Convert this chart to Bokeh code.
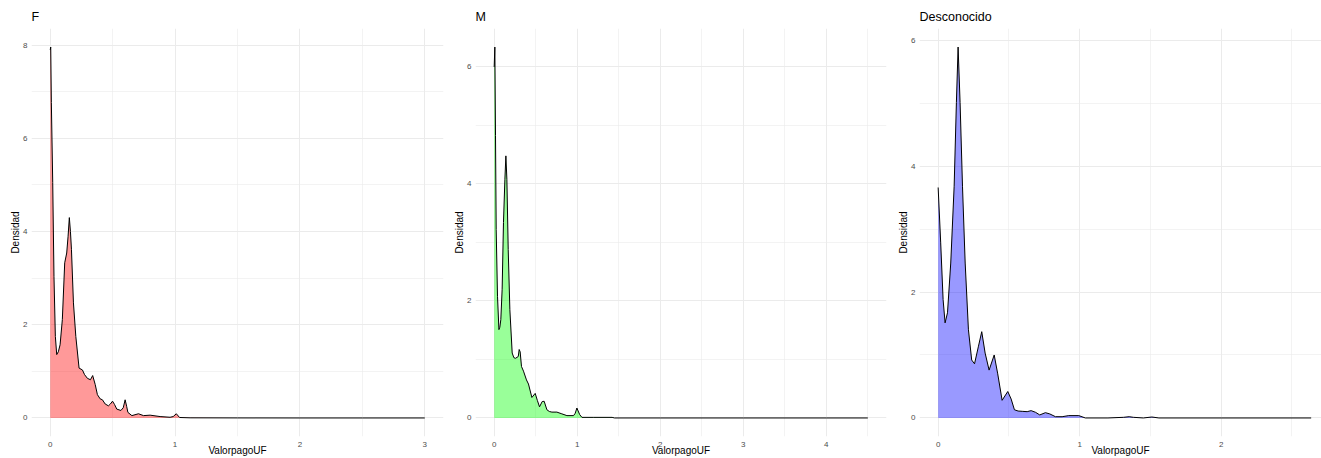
from bokeh.plotting import figure
from bokeh.layouts import row
from bokeh.models import Range1d, FixedTicker
from bokeh.embed import file_html
from bokeh.resources import INLINE

# Density of ValorpagoUF by sex (F, M, Desconocido)
f_x = [0.0, 0.004, 0.009, 0.02, 0.03, 0.041, 0.052, 0.065, 0.079, 0.097, 0.116, 0.132,
       0.143, 0.153, 0.162, 0.17, 0.186, 0.205, 0.231, 0.258, 0.275, 0.298, 0.322, 0.34,
       0.36, 0.378, 0.40, 0.418, 0.44, 0.466, 0.482, 0.499, 0.515, 0.533, 0.566, 0.585,
       0.60, 0.612, 0.622, 0.654, 0.707, 0.747, 0.80, 0.88, 0.96, 0.985, 1.01, 1.036,
       1.12, 1.5, 2.0, 2.5, 3.0]
f_y = [7.9, 7.96, 6.77, 5.05, 3.04, 1.75, 1.36, 1.42, 1.57, 2.11, 3.33, 3.54,
       3.9, 4.30, 4.0, 3.62, 2.47, 1.75, 1.07, 1.03, 0.93, 0.85, 0.82, 0.91,
       0.72, 0.50, 0.41, 0.39, 0.30, 0.26, 0.30, 0.36, 0.29, 0.19, 0.16, 0.22,
       0.39, 0.25, 0.12, 0.05, 0.09, 0.05, 0.06, 0.03, 0.015, 0.03, 0.09, 0.01,
       0.003, 0.001, 0.0, 0.0, 0.0]

m_x = [0.0, 0.008, 0.016, 0.024, 0.04, 0.057, 0.068, 0.08, 0.096, 0.112, 0.129, 0.141,
       0.153, 0.169, 0.189, 0.217, 0.237, 0.257, 0.29, 0.301, 0.313, 0.329, 0.353, 0.389,
       0.413, 0.454, 0.494, 0.52, 0.546, 0.578, 0.602, 0.635, 0.665, 0.695, 0.755, 0.815,
       0.876, 0.956, 0.976, 0.996, 1.03, 1.057, 1.2, 1.42, 1.45, 2.0, 3.0, 4.0, 4.5]
m_y = [6.0, 6.34, 4.83, 3.22, 2.08, 1.51, 1.55, 1.68, 2.20, 3.34, 4.08, 4.48,
       4.08, 2.88, 1.85, 1.11, 1.03, 1.02, 1.05, 1.17, 1.13, 0.88, 0.80, 0.65,
       0.58, 0.35, 0.42, 0.30, 0.19, 0.28, 0.285, 0.14, 0.11, 0.10, 0.10, 0.07,
       0.04, 0.04, 0.08, 0.17, 0.057, 0.01, 0.01, 0.01, 0.0, 0.0, 0.0, 0.0, 0.0]

d_x = [0.0, 0.018, 0.035, 0.049, 0.066, 0.089, 0.113, 0.129, 0.141, 0.155, 0.172, 0.191,
       0.214, 0.237, 0.257, 0.285, 0.308, 0.332, 0.36, 0.396, 0.421, 0.452, 0.492, 0.516,
       0.539, 0.565, 0.594, 0.629, 0.657, 0.688, 0.718, 0.758, 0.789, 0.829, 0.876, 0.923,
       0.994, 1.04, 1.2, 1.31, 1.35, 1.38, 1.45, 1.51, 1.56, 2.0, 2.636]
d_y = [3.66, 2.78, 1.88, 1.51, 1.67, 2.46, 3.68, 5.01, 5.89, 5.01, 3.68, 2.46,
       1.40, 0.92, 0.86, 1.14, 1.37, 1.03, 0.76, 1.00, 0.70, 0.28, 0.42, 0.30,
       0.13, 0.11, 0.105, 0.10, 0.116, 0.09, 0.048, 0.084, 0.064, 0.02, 0.02, 0.037,
       0.037, 0.0, 0.0, 0.01, 0.02, 0.01, 0.0, 0.015, 0.0, 0.0, 0.0]

# Tick positions per panel
f_xticks, f_xminor = [0, 1, 2, 3], [0.5, 1.5, 2.5]
f_yticks, f_yminor = [0, 2, 4, 6, 8], [1, 3, 5, 7]
m_xticks, m_xminor = [0, 1, 2, 3, 4], [0.5, 1.5, 2.5, 3.5, 4.5]
m_yticks, m_yminor = [0, 2, 4, 6], [1, 3, 5]
d_xticks, d_xminor = [0, 1, 2], [0.5, 1.5, 2.5]
d_yticks, d_yminor = [0, 2, 4, 6], [1, 3, 5]

FONT = "Liberation Sans"


def panel(title, xs, ys, fill, xticks, xminor, yticks, yminor,
          width, border_left, border_right, x_end=None):
    span_x = max(xs) - min(xs)
    span_y = max(ys)
    x0 = min(xs) - 0.05 * span_x
    x1 = max(xs) + 0.05 * span_x if x_end is None else x_end
    p = figure(width=width, height=458, output_backend="svg", toolbar_location=None,
               x_range=Range1d(x0, x1),
               y_range=Range1d(-0.05 * span_y, 1.05 * span_y),
               min_border_left=border_left, min_border_right=border_right,
               min_border_top=28, min_border_bottom=22)
    p.outline_line_color = None
    p.background_fill_color = "white"
    p.border_fill_color = "white"

    p.title.text = title
    p.title.text_font = FONT
    p.title.text_font_size = "12.5px"
    p.title.text_font_style = "normal"
    p.title.text_color = "black"
    p.title.align = "left"

    xt = FixedTicker(ticks=xticks, minor_ticks=xminor)
    yt = FixedTicker(ticks=yticks, minor_ticks=yminor)
    p.xaxis.ticker = xt
    p.yaxis.ticker = yt
    p.xgrid.ticker = xt
    p.ygrid.ticker = yt

    for g in (p.xgrid, p.ygrid):
        g.grid_line_color = "#EBEBEB"
        g.grid_line_width = 1
        g.minor_grid_line_color = "#EBEBEB"
        g.minor_grid_line_width = 0.6

    for ax in (p.xaxis, p.yaxis):
        ax.axis_line_color = None
        ax.major_tick_line_color = None
        ax.minor_tick_line_color = None
        ax.major_tick_out = 0
        ax.major_tick_in = 0
        ax.minor_tick_out = 0
        ax.minor_tick_in = 0
        ax.major_label_text_font = FONT
        ax.major_label_text_font_size = "8px"
        ax.major_label_text_color = "#4D4D4D"
        ax.axis_label_text_font = FONT
        ax.axis_label_text_font_size = "10px"
        ax.axis_label_text_font_style = "normal"
        ax.axis_label_text_color = "black"
    p.xaxis.major_label_standoff = 5
    p.xaxis.axis_label_standoff = -5
    p.yaxis.major_label_standoff = 4
    p.yaxis.axis_label_standoff = -1
    p.xaxis.axis_label = "ValorpagoUF"
    p.yaxis.axis_label = "Densidad"
    p.yaxis.major_label_orientation = "horizontal"

    p.varea(x=xs, y1=[0] * len(xs), y2=ys, fill_color=fill, fill_alpha=0.4)
    p.line(xs, ys, line_color="black", line_width=1)
    return p


p1 = panel("F", f_x, f_y, "#FF0000", f_xticks, f_xminor, f_yticks, f_yminor,
           width=447, border_left=31, border_right=4)
p2 = panel("M", m_x, m_y, "#00FF00", m_xticks, m_xminor, m_yticks, m_yminor,
           width=443, border_left=28, border_right=4)
p3 = panel("Desconocido", d_x, d_y, "#0000FF", d_xticks, d_xminor, d_yticks, d_yminor,
           width=431, border_left=29, border_right=0, x_end=2.709)

layout = row(p1, p2, p3)
open("out.html", "w").write(file_html(layout, INLINE))
